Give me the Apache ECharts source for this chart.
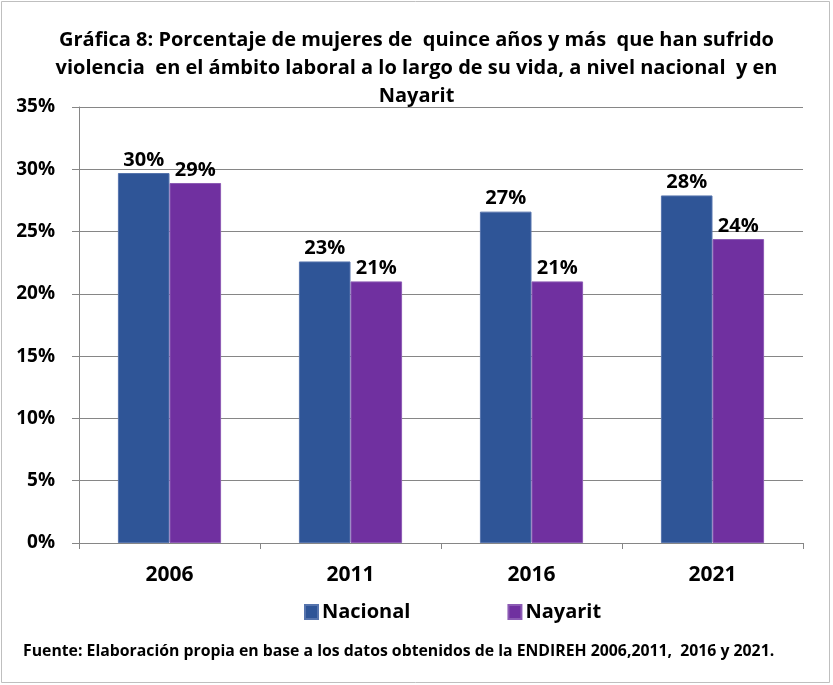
<!DOCTYPE html>
<html>
<head>
    <meta charset="UTF-8">
    <title>Gráfica 8</title>
    <script src="https://cdn.jsdelivr.net/npm/echarts@6/dist/echarts.min.js"></script>
    <style>
        html, body { margin: 0; padding: 0; background: #fff; }
        #main { width: 833px; height: 685px; }
    </style>
</head>
<body>
<div id="main"></div>
<script type="text/javascript">
    // datos (porcentaje)
    var years = ['2006', '2011', '2016', '2021'];
    var nacional = [29.7, 22.6, 26.6, 27.9];
    var nayarit = [28.9, 21.0, 21.0, 24.4];
    var yTicks = [0, 5, 10, 15, 20, 25, 30, 35];

    var fontFam = '"Open Sans", sans-serif';
    var myChart = echarts.init(document.getElementById('main'));

    var option = {
        backgroundColor: '#fff',
        animation: false,
        textStyle: { fontFamily: fontFam },
        title: {
            text: 'Gráfica 8: Porcentaje de mujeres de  quince años y más  que han sufrido\nviolencia  en el ámbito laboral a lo largo de su vida, a nivel nacional  y en\nNayarit',
            left: 'center',
            top: 21,
            textStyle: {
                fontFamily: fontFam,
                fontSize: 20,
                fontWeight: 'bold',
                color: '#000',
                lineHeight: 28
            }
        },
        graphic: [
            {
                type: 'rect',
                shape: { x: 1.5, y: 1.5, width: 828, height: 681 },
                style: { fill: 'none', stroke: '#bfbfbf', lineWidth: 1 },
                silent: true
            },
            {
                type: 'text',
                left: 23,
                top: 643,
                style: {
                    text: 'Fuente: Elaboración propia en base a los datos obtenidos de la ENDIREH 2006,2011,  2016 y 2021.',
                    font: 'bold 15.8px ' + fontFam,
                    fill: '#000'
                }
            }
        ],
        legend: {
            data: ['Nacional', 'Nayarit'],
            left: 299,
            top: 597,
            icon: 'rect',
            itemWidth: 13,
            itemHeight: 14,
            itemGap: 97,
            textStyle: { fontFamily: fontFam, fontSize: 20, fontWeight: 'bold', color: '#000', padding: [0, 0, 0, -1] }
        },
        grid: {
            left: 79,
            right: 30,
            top: 107,
            bottom: 142
        },
        xAxis: {
            type: 'category',
            data: years,
            axisLine: { lineStyle: { color: '#868686', width: 1 } },
            axisTick: { show: true, length: 6, lineStyle: { color: '#868686' } },
            axisLabel: {
                fontFamily: fontFam,
                fontSize: 21,
                fontWeight: 'bold',
                color: '#000',
                margin: 22
            }
        },
        yAxis: {
            type: 'value',
            min: 0,
            max: 35,
            interval: 5,
            axisLine: { show: true, lineStyle: { color: '#868686' } },
            axisTick: { show: true, length: 7, lineStyle: { color: '#868686' } },
            splitLine: { lineStyle: { color: '#868686', width: 1 } },
            axisLabel: {
                formatter: function (v) { return yTicks.indexOf(v) >= 0 ? v + '%' : ''; },
                fontFamily: fontFam,
                fontSize: 19,
                fontWeight: 'bold',
                color: '#000',
                margin: 24
            }
        },
        series: [
            {
                name: 'Nacional',
                type: 'bar',
                data: nacional,
                barGap: '0%',
                barCategoryGap: '43%',
                itemStyle: { color: '#2F5597', borderColor: '#5674ad', borderWidth: 1 },
                label: {
                    show: true,
                    position: 'top',
                    distance: 3,
                    formatter: function (p) { return Math.round(p.value) + '%'; },
                    fontFamily: fontFam,
                    fontSize: 20,
                    fontWeight: 'bold',
                    color: '#000'
                }
            },
            {
                name: 'Nayarit',
                type: 'bar',
                data: nayarit,
                itemStyle: { color: '#7030A0', borderColor: '#8c5bb4', borderWidth: 1 },
                label: {
                    show: true,
                    position: 'top',
                    distance: 3,
                    formatter: function (p) { return Math.round(p.value) + '%'; },
                    fontFamily: fontFam,
                    fontSize: 20,
                    fontWeight: 'bold',
                    color: '#000'
                }
            }
        ]
    };
    myChart.setOption(option);
</script>
</body>
</html>
